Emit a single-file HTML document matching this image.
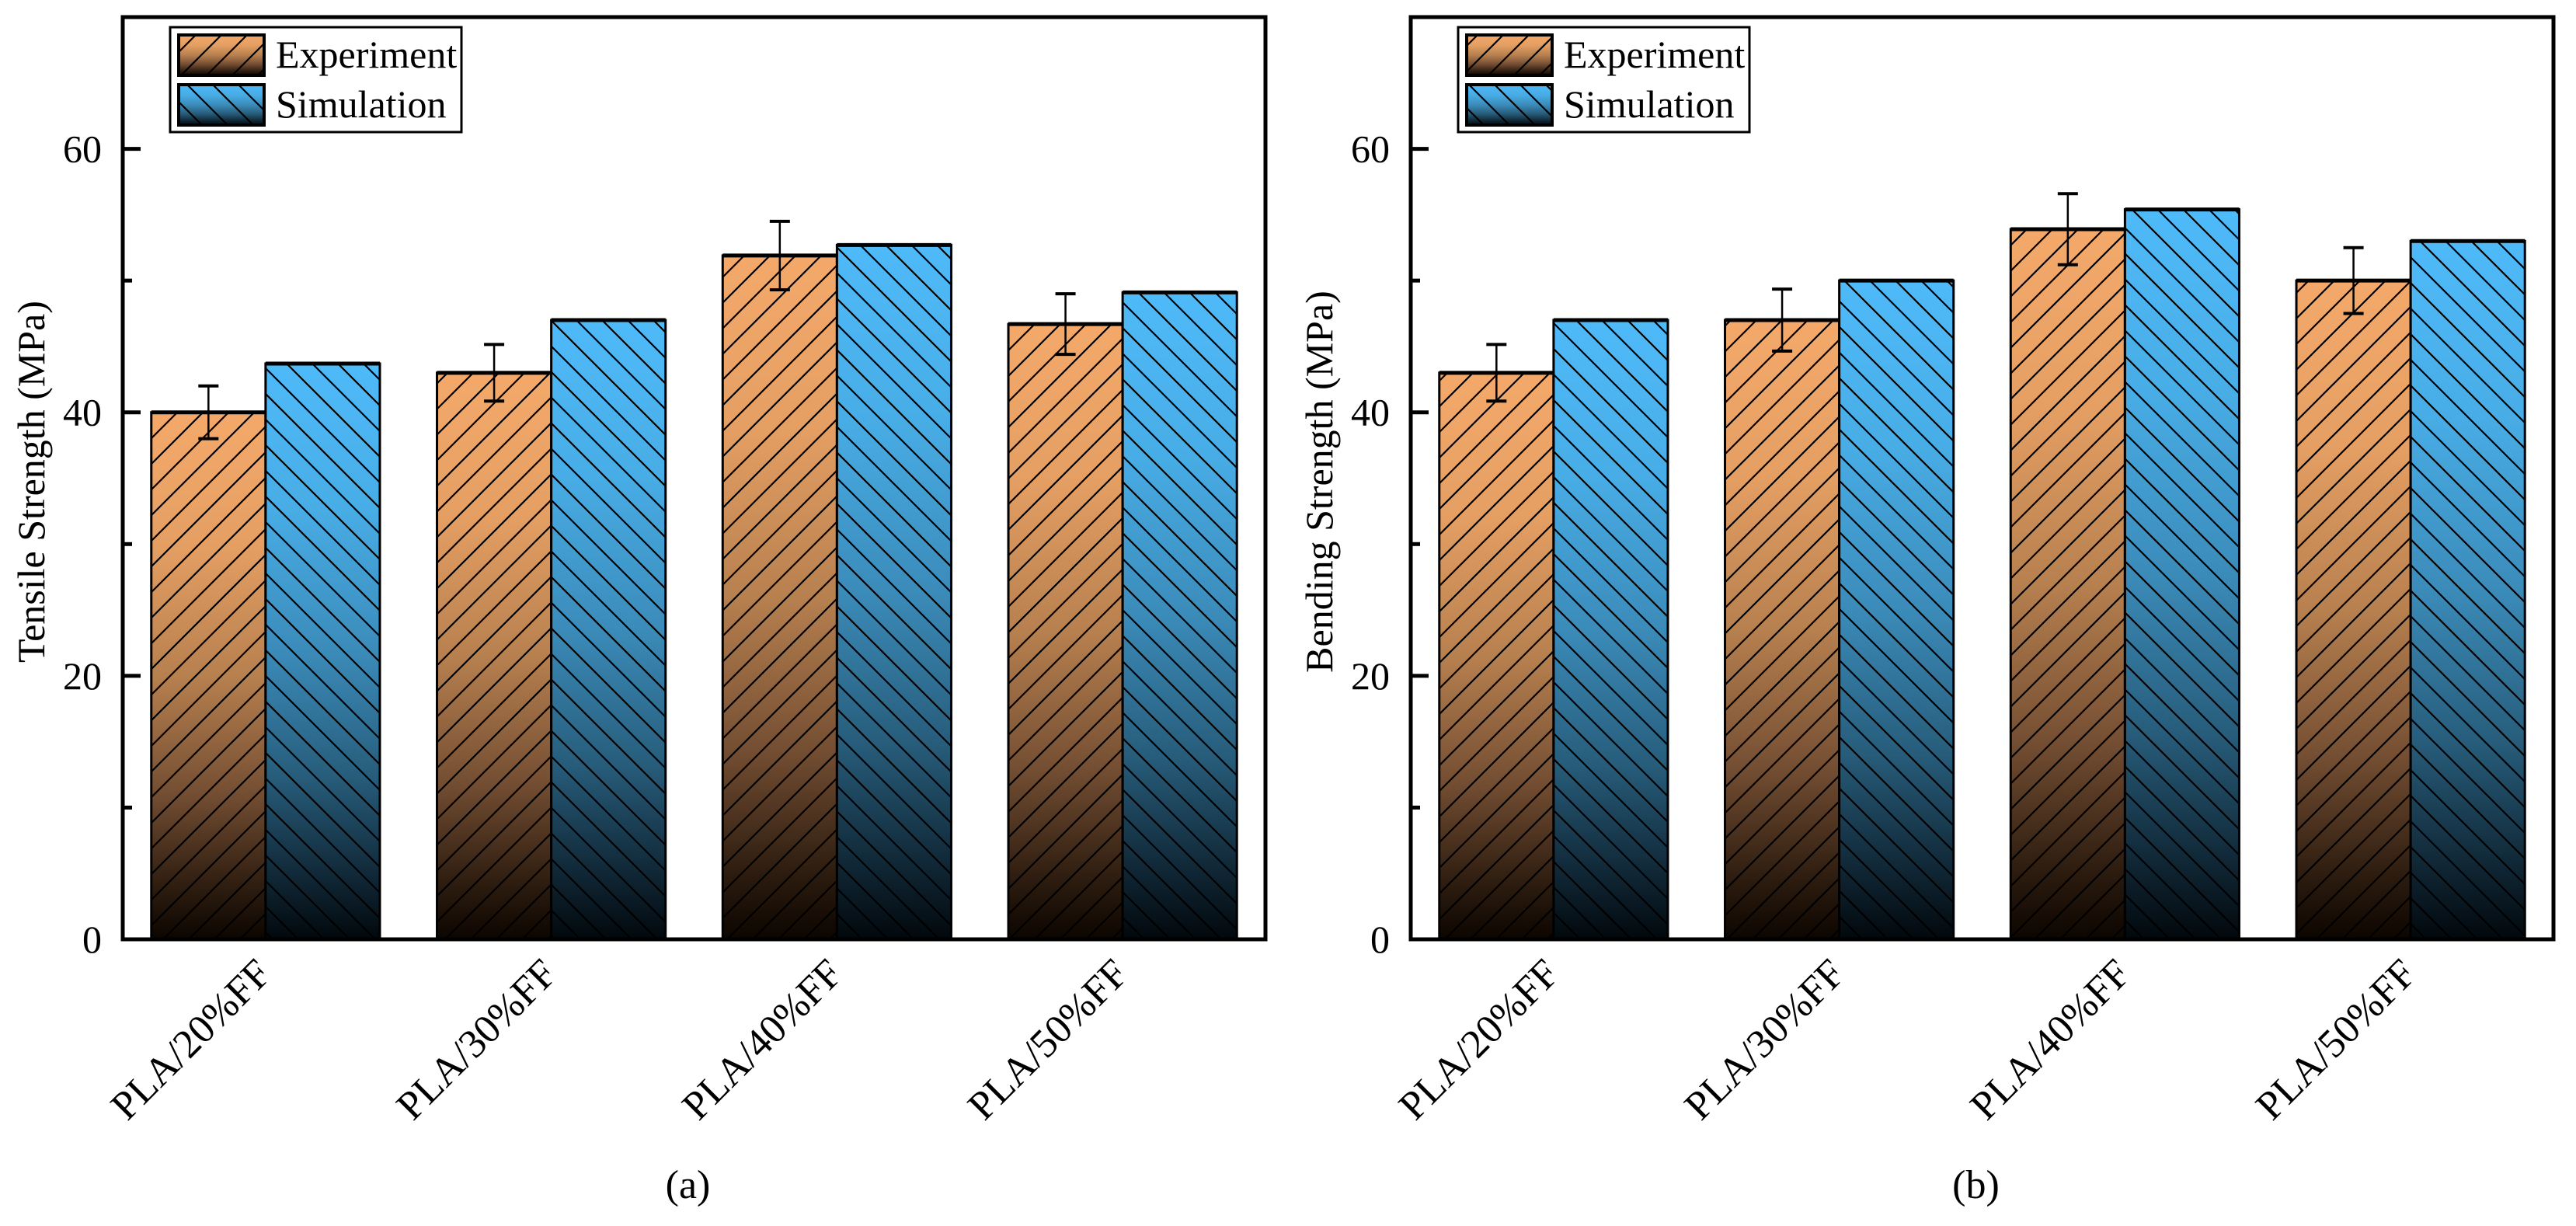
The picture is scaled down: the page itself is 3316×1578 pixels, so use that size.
<!DOCTYPE html>
<html><head><meta charset="utf-8"><style>
html,body{margin:0;padding:0;background:#fff}
svg{display:block;font-family:"Liberation Serif",serif}
</style></head><body>
<svg id="chart" width="3316" height="1578" viewBox="0 0 3316 1578" xmlns="http://www.w3.org/2000/svg">
<defs>
<linearGradient id="gOr" x1="0" y1="0" x2="0" y2="1">
<stop offset="0" stop-color="#F4A96A"/><stop offset="0.25" stop-color="#E59F63"/><stop offset="0.5" stop-color="#B7804F"/><stop offset="0.72" stop-color="#754F33"/><stop offset="0.9" stop-color="#2e1d10"/><stop offset="1" stop-color="#0c0500"/>
</linearGradient>
<linearGradient id="gBl" x1="0" y1="0" x2="0" y2="1">
<stop offset="0" stop-color="#4FBAF9"/><stop offset="0.25" stop-color="#48ADE6"/><stop offset="0.5" stop-color="#3B8BB9"/><stop offset="0.72" stop-color="#275C7A"/><stop offset="0.9" stop-color="#0f2533"/><stop offset="1" stop-color="#02080c"/>
</linearGradient>
<pattern id="hOr" patternUnits="userSpaceOnUse" width="33" height="33"><path d="M-5,38 L38,-5 M-5,5 L5,-5 M28,38 L38,28" stroke="#000" stroke-width="2.2"/></pattern>
<pattern id="hBl" patternUnits="userSpaceOnUse" width="33" height="33"><path d="M-5,-5 L38,38 M-5,28 L5,38 M28,-5 L38,5" stroke="#000" stroke-width="2.2"/></pattern>
</defs>
</svg>
<script>
const categories = ["PLA/20%FF","PLA/30%FF","PLA/40%FF","PLA/50%FF"];
const tensileExp = [40, 43, 51.9, 46.7];
const tensileExpErr = [2, 2.15, 2.6, 2.3];
const tensileSim = [43.7, 47, 52.7, 49.1];
const bendingExp = [43, 47, 53.9, 50];
const bendingExpErr = [2.15, 2.35, 2.7, 2.5];
const bendingSim = [47, 50, 55.4, 53];
const yTicks = [0, 20, 40, 60];
const yMinorTicks = [10, 30, 50];
const yMax = 70;

const NS = "http://www.w3.org/2000/svg";
const svg = document.getElementById('chart');
function mk(tag, attrs, parent) {
  const e = document.createElementNS(NS, tag);
  for (const k in attrs) e.setAttribute(k, attrs[k]);
  (parent || svg).appendChild(e);
  return e;
}
const TOP = 22, BOT = 1209, PW = 1471;

function panel(ox, exp, err, sim, yTitle, tag, pname) {
  const g = mk('g', {});
  
  
  const yS = v => BOT - v / yMax * (BOT - TOP);
  const catW = PW / categories.length;
  const xC = i => ox + catW * (i + 0.5);
  const bw = catW * 0.4;
  categories.forEach((c, i) => {
    const x0 = xC(i) - bw, x1 = xC(i);
    const ye = yS(exp[i]), ys = yS(sim[i]);
    const be = mk('rect', {x: x0, y: ye, width: bw, height: BOT - ye, fill: 'url(#gOr)'}, g);
    
    
    mk('rect', {x: x0, y: ye, width: bw, height: BOT - ye, fill: 'url(#hOr)', stroke: '#000', 'stroke-width': 3}, g);
    mk('line', {x1: x0, x2: x0 + bw, y1: ye, y2: ye, stroke: '#000', 'stroke-width': 5}, g);
    const bs = mk('rect', {x: x1, y: ys, width: bw, height: BOT - ys, fill: 'url(#gBl)'}, g);
    
    
    mk('rect', {x: x1, y: ys, width: bw, height: BOT - ys, fill: 'url(#hBl)', stroke: '#000', 'stroke-width': 3}, g);
    mk('line', {x1: x1, x2: x1 + bw, y1: ys, y2: ys, stroke: '#000', 'stroke-width': 5}, g);
    const ex = x0 + bw / 2, et = yS(exp[i] + err[i]), eb = yS(exp[i] - err[i]);
    const eg = mk('g', {}, g);
    
    
    mk('line', {x1: ex, x2: ex, y1: et, y2: eb, stroke: '#000', 'stroke-width': 2.5}, eg);
    mk('line', {x1: ex - 13, x2: ex + 13, y1: et, y2: et, stroke: '#000', 'stroke-width': 4}, eg);
    mk('line', {x1: ex - 13, x2: ex + 13, y1: eb, y2: eb, stroke: '#000', 'stroke-width': 4}, eg);
    const lx = xC(i) + 10, ly = 1256;
    const t = mk('text', {x: lx, y: ly, 'font-size': 52, 'text-anchor': 'end', transform: `rotate(-45 ${lx} ${ly})`}, g);
    t.textContent = c;
    
    
  });
  const fr = mk('rect', {x: ox, y: TOP, width: PW, height: BOT - TOP, fill: 'none', stroke: '#000', 'stroke-width': 5}, g);
  
  
  yTicks.forEach(v => {
    const y = yS(v);
    mk('line', {x1: ox, x2: ox + 23, y1: y, y2: y, stroke: '#000', 'stroke-width': 5}, g);
    const t = mk('text', {x: ox - 27, y: y + 17, 'font-size': 50, 'text-anchor': 'end'}, g);
    t.textContent = v;
    
    
  });
  yMinorTicks.forEach(v => {
    const y = yS(v);
    mk('line', {x1: ox, x2: ox + 12, y1: y, y2: y, stroke: '#000', 'stroke-width': 5}, g);
  });
  const tx = ox - 101, ty = 620;
  const yt = mk('text', {x: tx, y: ty, 'font-size': 50, 'text-anchor': 'middle', transform: `rotate(-90 ${tx} ${ty})`}, g);
  yt.textContent = yTitle;
  
  
  const pl = mk('text', {x: ox + PW / 2 - 8, y: 1542, 'font-size': 52, 'text-anchor': 'middle'}, g);
  pl.textContent = tag;
  
  
  const lg = mk('g', {}, g);
  
  
  const lx = ox + 61;
  mk('rect', {x: lx, y: 35, width: 375, height: 135, fill: '#fff', stroke: '#000', 'stroke-width': 3}, lg);
  [['Experiment', 'gOr', 'hOr', 45], ['Simulation', 'gBl', 'hBl', 109]].forEach(([name, gr, h, yy]) => {
    const e = mk('g', {}, lg);
    
    
    mk('rect', {x: lx + 11, y: yy, width: 110, height: 52, fill: 'url(#' + gr + ')'}, e);
    mk('rect', {x: lx + 11, y: yy, width: 110, height: 52, fill: 'url(#' + h + ')', stroke: '#000', 'stroke-width': 4}, e);
    const t = mk('text', {x: lx + 136, y: yy + 42, 'font-size': 50}, e);
    t.textContent = name;
  });
}
panel(158, tensileExp, tensileExpErr, tensileSim, 'Tensile Strength (MPa)', '(a)', 'tensile-panel');
panel(1816, bendingExp, bendingExpErr, bendingSim, 'Bending Strength (MPa)', '(b)', 'bending-panel');
</script>
</body></html>
